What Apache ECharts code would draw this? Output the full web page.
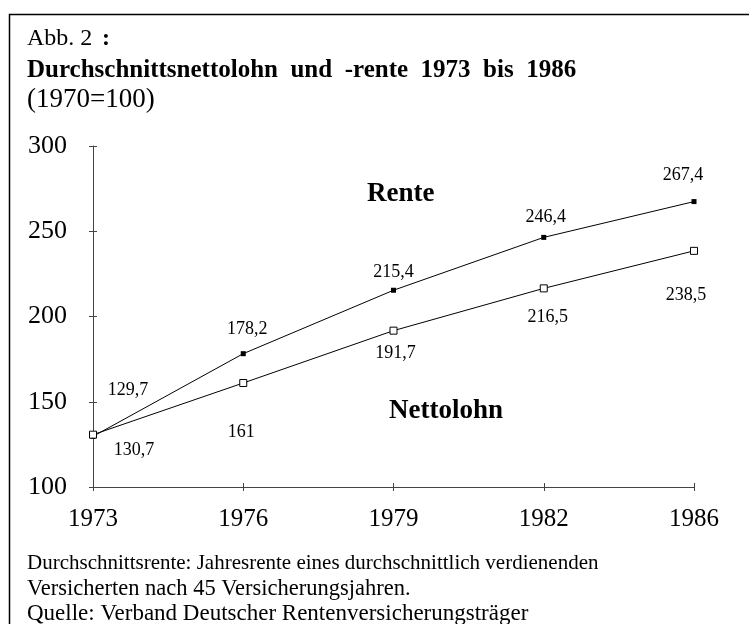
<!DOCTYPE html>
<html>
<head>
<meta charset="utf-8">
<script src="https://cdn.jsdelivr.net/npm/echarts@6/dist/echarts.min.js"></script>
<style>
html,body{margin:0;padding:0;background:#fff;}
#c{width:749px;height:624px;}
</style>
</head>
<body>
<div id="c"></div>
<script>
var years = ['1973', '1976', '1979', '1982', '1986'];
var rente = [129.7, 178.2, 215.4, 246.4, 267.4];
var nettolohn = [130.7, 161, 191.7, 216.5, 238.5];
var yTicks = [100, 150, 200, 250, 300];

// label offsets (layout only)
var renteLabelOffsets = [[35, -46], [4, -24], [0, -18], [2, -20], [-11, -26]];
var nettoLabelOffsets = [[41, 16], [-2, 49], [2, 23], [4, 29], [-8, 44]];

var FONT = '"Liberation Serif", "Times New Roman", serif';

function fmt(v) { return String(v).replace('.', ','); }

function buildData(vals, offs) {
  return vals.map(function (v, i) {
    return { value: v, label: { offset: offs[i] } };
  });
}

var chart = echarts.init(document.getElementById('c'), null, { renderer: 'canvas' });

var axisColor = '#444';
var labelStyle = { show: true, position: 'inside', color: '#000', fontFamily: FONT, fontSize: 18,
  formatter: function (p) { return fmt(p.value); } };

function txt(x, y, s, font) {
  return { type: 'text', x: x, y: y, style: { text: s, font: font, fill: '#000', textVerticalAlign: 'middle', verticalAlign: 'middle' }, silent: true };
}

chart.setOption({
  animation: false,
  backgroundColor: '#fff',
  grid: { left: 93, right: 55, top: 146, bottom: 137 },
  xAxis: [{
    type: 'category', data: years, boundaryGap: false,
    axisLine: { lineStyle: { color: axisColor, width: 1 } },
    axisTick: { show: true, inside: false, length: 4, lineStyle: { color: axisColor } },
    axisLabel: { color: '#000', fontFamily: FONT, fontSize: 25, margin: 20 },
    splitLine: { show: false }
  }, {
    type: 'category', data: years, boundaryGap: false, position: 'bottom',
    axisLine: { show: false },
    axisTick: { show: true, inside: true, length: 4, lineStyle: { color: axisColor } },
    axisLabel: { show: false }, splitLine: { show: false }
  }],
  yAxis: [{
    type: 'value', min: yTicks[0], max: yTicks[yTicks.length - 1], interval: yTicks[1] - yTicks[0],
    axisLine: { show: true, lineStyle: { color: axisColor, width: 1 } },
    axisTick: { show: true, inside: false, length: 4, lineStyle: { color: axisColor } },
    axisLabel: { color: '#000', fontFamily: FONT, fontSize: 26, margin: 26 },
    splitLine: { show: false }
  }, {
    type: 'value', min: yTicks[0], max: yTicks[yTicks.length - 1], interval: yTicks[1] - yTicks[0], position: 'left',
    axisLine: { show: false },
    axisTick: { show: true, inside: true, length: 4, lineStyle: { color: axisColor } },
    axisLabel: { show: false }, splitLine: { show: false }
  }],
  series: [{
    name: 'Rente', type: 'line', data: buildData(rente, renteLabelOffsets),
    symbol: 'rect', symbolSize: 5, showAllSymbol: true,
    lineStyle: { color: '#000', width: 1 },
    itemStyle: { color: '#000', borderColor: '#000', borderWidth: 0 },
    label: labelStyle, z: 2
  }, {
    name: 'Nettolohn', type: 'line', data: buildData(nettolohn, nettoLabelOffsets),
    symbol: 'rect', symbolSize: 7, showAllSymbol: true,
    lineStyle: { color: '#000', width: 1 },
    itemStyle: { color: '#fff', borderColor: '#000', borderWidth: 1 },
    label: labelStyle, z: 3
  }],
  graphic: [
    { type: 'rect', left: 7, top: 12, shape: { width: 800, height: 700 }, style: { fill: 'none', stroke: '#000', lineWidth: 1.5 }, silent: true },
    txt(27, 39, 'Abb. 2', '24px ' + FONT),
    txt(102, 39, ':', 'bold 24px ' + FONT),
    txt(27, 71, 'Durchschnittsnettolohn  und  -rente  1973  bis  1986', 'bold 25px ' + FONT),
    txt(27, 100, '(1970=100)', '27px ' + FONT),
    txt(367, 194, 'Rente', 'bold 27px ' + FONT),
    txt(389, 411, 'Nettolohn', 'bold 27px ' + FONT),
    txt(27, 563, 'Durchschnittsrente: Jahresrente eines durchschnittlich verdienenden', '21px ' + FONT),
    txt(27, 589, 'Versicherten nach 45 Versicherungsjahren.', '22.5px ' + FONT),
    txt(27, 614, 'Quelle: Verband Deutscher Rentenversicherungsträger', '23px ' + FONT)
  ]
});
</script>
</body>
</html>
